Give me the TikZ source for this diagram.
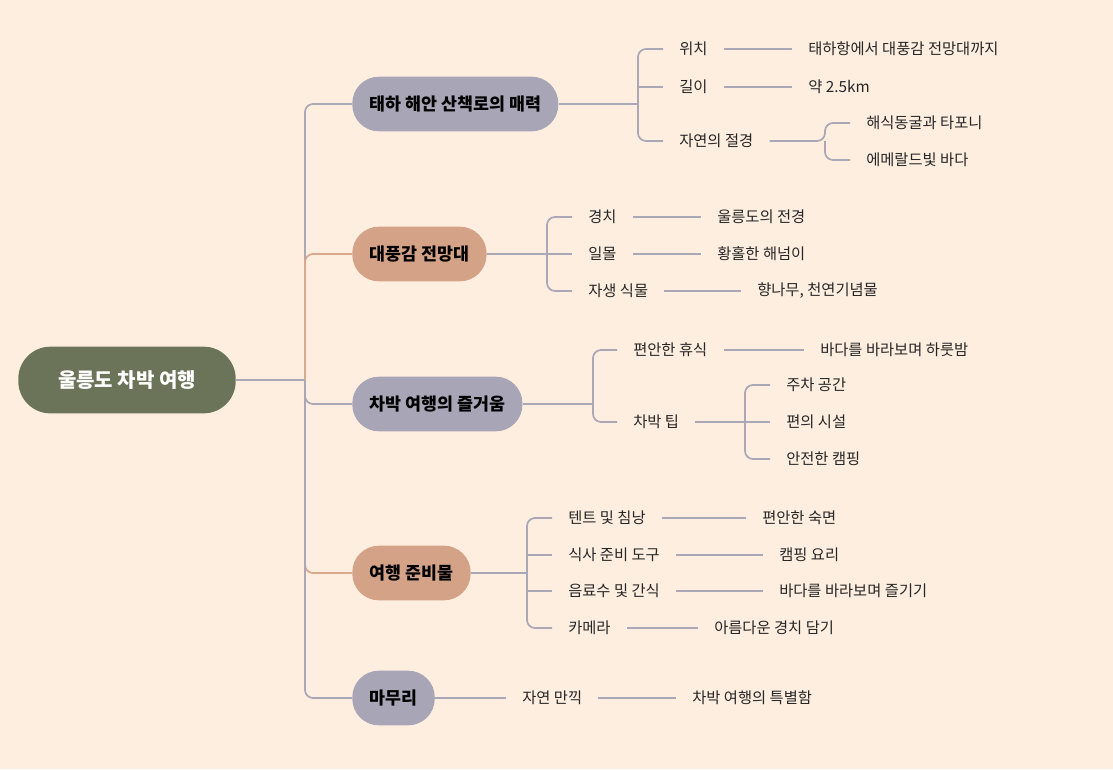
\documentclass[tikz,border=0pt]{standalone}
\usepackage{fontspec}
\setmainfont{Noto Sans CJK KR}
\usetikzlibrary{positioning}
\definecolor{paper}{RGB}{254,238,224}
\definecolor{rootfill}{RGB}{107,115,88}
\definecolor{greyfill}{RGB}{168,166,182}
\definecolor{tanfill}{RGB}{212,162,135}
\definecolor{greyline}{RGB}{170,168,182}
\definecolor{tanline}{RGB}{218,168,140}
\tikzset{
    % main blocks
    root/.style={rectangle, rounded corners=24pt, fill=rootfill, text=white,
        font=\bfseries\fontsize{15}{18}\selectfont, minimum width=163pt, minimum height=50pt},
    branch/.style={rectangle, rounded corners=20pt, text=black, anchor=west,
        font=\bfseries\fontsize{13}{16}\selectfont, minimum height=41pt, inner xsep=13pt},
    grey branch/.style={branch, fill=greyfill},
    tan branch/.style={branch, fill=tanfill},
    % text items
    item/.style={anchor=west, inner xsep=12pt, inner ysep=2pt,
        font=\fontsize{11.5}{14}\selectfont, text=black!85},
    link/.style={draw=greyline, line width=1.3pt, rounded corners=6pt},
    tan link/.style={link, draw=tanline},
}
\begin{document}
\begin{tikzpicture}[x=0.75pt, y=-0.75pt]
    \fill [paper] (0,0) rectangle (1113,769);
    \useasboundingbox (0,0) rectangle (1113,769);

    \node [root] (root) at (127,380) {울릉도 차박 여행};
    \coordinate (hub) at (305,380);

    \node [grey branch] (walk) at (352,104) {태하 해안 산책로의 매력};
    \node [tan branch] (view) at (352,254) {대풍감 전망대};
    \node [grey branch] (fun) at (352,404) {차박 여행의 즐거움};
    \node [tan branch] (prep) at (352,573) {여행 준비물};
    \node [grey branch] (end) at (352,698) {마무리};

    \path [link] (root.east) -- (hub);
    \path [link] (hub) |- (walk.west);
    \path [tan link] (hub) |- (view.west);
    \path [link] (hub) |- (fun.west);
    \path [tan link] (hub) |- (prep.west);
    \path [link] (hub) |- (end.west);

    % first branch
    \node [item] (pos) at (663,49) {위치};
    \node [item] (len) at (663,87) {길이};
    \node [item] (cliff) at (663,141) {자연의 절경};
    \node [item] (pos leaf) at (792,49) {태하항에서 대풍감 전망대까지};
    \node [item] (len leaf) at (792,87) {약 2.5km};
    \node [item] (cave) at (850,123) {해식동굴과 타포니};
    \node [item] (sea) at (850,160) {에메랄드빛 바다};
    \path [link] (walk.east) -- (638,104);
    \path [link] (638,104) |- (pos.west);
    \path [link] (638,104) |- (cliff.west);
    \path [link] (638,87) -- (len.west);
    \path [link] (pos.east) -- (pos leaf.west);
    \path [link] (len.east) -- (len leaf.west);
    \path [link] (cliff.east) -- (825,141) |- (cave.west);
    \path [link] (825,141) |- (sea.west);

    % second branch
    \node [item] (sight) at (572,217) {경치};
    \node [item] (sunset) at (572,254) {일몰};
    \node [item] (plant) at (572,291) {자생 식물};
    \node [item] (sight leaf) at (701,217) {울릉도의 전경};
    \node [item] (sunset leaf) at (701,254) {황홀한 해넘이};
    \node [item] (plant leaf) at (741,291) {향나무, 천연기념물};
    \path [link] (view.east) -- (547,254);
    \path [link] (547,254) |- (sight.west);
    \path [link] (547,254) |- (plant.west);
    \path [link] (547,254) -- (sunset.west);
    \path [link] (sight.east) -- (sight leaf.west);
    \path [link] (sunset.east) -- (sunset leaf.west);
    \path [link] (plant.east) -- (plant leaf.west);

    % third branch
    \node [item] (rest) at (617,350) {편안한 휴식};
    \node [item] (tip) at (617,422) {차박 팁};
    \node [item] (rest leaf) at (804,350) {바다를 바라보며 하룻밤};
    \node [item] (park) at (770,385) {주차 공간};
    \node [item] (amen) at (770,422) {편의 시설};
    \node [item] (camp) at (770,459) {안전한 캠핑};
    \path [link] (fun.east) -- (593,404);
    \path [link] (593,404) |- (rest.west);
    \path [link] (593,404) |- (tip.west);
    \path [link] (rest.east) -- (rest leaf.west);
    \path [link] (tip.east) -- (745,422);
    \path [link] (745,422) |- (park.west);
    \path [link] (745,422) |- (camp.west);
    \path [link] (745,422) -- (amen.west);

    % fourth branch
    \node [item] (tent) at (552,518) {텐트 및 침낭};
    \node [item] (cook) at (552,555) {식사 준비 도구};
    \node [item] (drink) at (552,591) {음료수 및 간식};
    \node [item] (cam) at (552,628) {카메라};
    \node [item] (tent leaf) at (746,518) {편안한 숙면};
    \node [item] (cook leaf) at (763,555) {캠핑 요리};
    \node [item] (drink leaf) at (763,591) {바다를 바라보며 즐기기};
    \node [item] (cam leaf) at (698,628) {아름다운 경치 담기};
    \path [link] (prep.east) -- (527,573);
    \path [link] (527,573) |- (tent.west);
    \path [link] (527,573) |- (cam.west);
    \path [link] (527,555) -- (cook.west);
    \path [link] (527,591) -- (drink.west);
    \path [link] (tent.east) -- (tent leaf.west);
    \path [link] (cook.east) -- (cook leaf.west);
    \path [link] (drink.east) -- (drink leaf.west);
    \path [link] (cam.east) -- (cam leaf.west);

    % fifth branch
    \node [item] (nature) at (506,698) {자연 만끽};
    \node [item] (nature leaf) at (676,698) {차박 여행의 특별함};
    \path [link] (end.east) -- (nature.west);
    \path [link] (nature.east) -- (nature leaf.west);
\end{tikzpicture}
\end{document}
